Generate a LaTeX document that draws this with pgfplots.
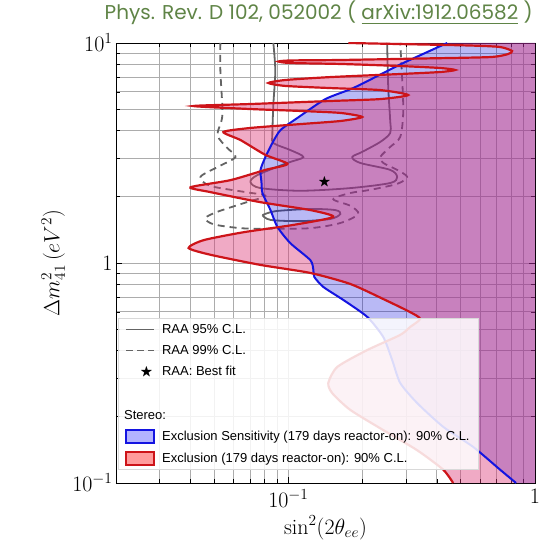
\RequirePackage{fix-cm}
\documentclass[border=0pt]{standalone}
\usepackage{amssymb}
\usepackage{graphicx}
\usepackage{fontspec}
\usepackage{pgfplots}
\pgfplotsset{compat=1.18}
\usepackage{pgfplotstable}
\newfontfamily\legfont{Liberation Sans}
\newfontfamily\titfont{Poppins}

\definecolor{titgreen}{RGB}{95,132,70}
\definecolor{raagray}{RGB}{100,100,100}
\definecolor{stblue}{RGB}{20,20,225}
\definecolor{stred}{RGB}{205,20,25}
\definecolor{fillblue}{RGB}{0,0,217}
\definecolor{fillred}{RGB}{220,57,120}

\pgfplotsset{
  lineleg/.style={legend image code/.code={\draw[##1] (0pt,0pt) -- (28pt,0pt);}},
  patchleg/.style={legend image code/.code={\draw[##1] (0pt,-6.5pt) rectangle (28pt,6.5pt);}},
  starleg/.style={legend image code/.code={\node[inner sep=0pt,font=\fontsize{13}{13}\selectfont] at (14pt,0pt) {$\bigstar$};}},
}

% Stereo exclusion (90% C.L.), last two rows close the area at x = 1
\pgfplotstableread{
x y
0.1750 10.0
0.2840 9.89
0.545 9.74
0.7216 9.59
0.8072 9.20
0.778 8.91
0.657 8.63
0.3422 8.50
0.1625 8.37
0.1019 8.33
0.0911 8.24
0.1019 8.11
0.1625 8.03
0.2840 7.86
0.412 7.70
0.4745 7.54
0.412 7.38
0.2840 7.23
0.1479 7.00
0.0973 6.79
0.0830 6.58
0.0973 6.38
0.1479 6.24
0.2357 6.11
0.3061 5.80
0.2357 5.56
0.1479 5.45
0.0702 5.28
0.0412 5.17
0.0702 5.01
0.1118 4.91
0.1625 4.81
0.1993 4.61
0.1625 4.42
0.1118 4.28
0.0702 4.11
0.0545 3.94
0.0640 3.62
0.0807 3.10
0.0991 2.82
0.0807 2.65
0.0582 2.38
0.0401 2.21
0.0483 2.10
0.0771 1.89
0.1228 1.74
0.1521 1.62
0.1048 1.49
0.0658 1.38
0.0453 1.27
0.0394 1.17
0.0483 1.09
0.0771 0.980
0.1228 0.901
0.1782 0.803
0.2425 0.686
0.3118 0.598
0.3422 0.557
0.3118 0.512
0.2840 0.471
0.2088 0.402
0.1579 0.337
0.1452 0.285
0.1507 0.256
0.1782 0.215
0.2425 0.174
0.3327 0.141
0.4245 0.115
0.4656 0.100
1 0.1
1 10
}\redc

% Stereo sensitivity (90% C.L.)
\pgfplotstableread{
x y
0.4405 10.0
0.2922 8.11
0.2517 7.46
0.1832 6.24
0.1413 5.56
0.1087 4.56
0.0929 4.02
0.0861 3.51
0.0807 3.03
0.0771 2.65
0.0778 2.33
0.0785 2.08
0.0846 1.74
0.0902 1.46
0.1019 1.23
0.1228 1.03
0.1263 0.930
0.1274 0.864
0.1387 0.778
0.1671 0.679
0.2088 0.569
0.2425 0.461
0.2636 0.362
0.2840 0.285
0.3327 0.231
0.4245 0.180
0.5610 0.146
0.7216 0.115
0.838 0.100
1 0.1
1 10
}\bluec

% RAA 95% C.L.
\pgfplotstableread{
x y
0.0869 10.0
0.0885 7.46
0.0869 5.23
0.0861 3.82
0.0869 3.51
0.1019 3.26
0.1150 3.03
0.0991 2.85
0.0749 2.51
0.0702 2.33
0.0771 2.19
0.1118 2.13
0.1782 2.19
0.2588 2.31
0.2761 2.46
0.2588 2.65
0.1955 2.85
0.1815 3.03
0.1993 3.20
0.2357 3.55
0.2588 3.90
0.2588 4.42
0.2541 6.24
0.2517 9.49
0.2517 10.0
}\raaA

\pgfplotstableread{
x y
0.0785 1.65
0.0885 1.72
0.1228 1.76
0.1550 1.74
0.1625 1.67
0.1479 1.585
0.1118 1.55
0.0846 1.57
0.0785 1.65
}\raaB

% RAA 99% C.L.
\pgfplotstableread{
x y
0.0530 10.0
0.0530 7.46
0.0540 4.71
0.0516 3.82
0.0566 3.33
0.0610 3.03
0.0516 2.73
0.0440 2.46
0.0483 2.24
0.0670 2.10
0.0807 2.02
0.0658 1.87
0.0516 1.71
0.0461 1.60
0.0497 1.50
0.0640 1.44
0.0846 1.43
0.1228 1.44
0.1625 1.52
0.1920 1.67
0.1782 1.82
0.1521 1.95
0.1782 2.08
0.2148 2.15
0.2761 2.29
0.3032 2.46
0.2761 2.65
0.2425 2.85
0.2357 3.03
0.2588 3.37
0.2840 3.74
0.2922 4.81
0.2895 6.79
0.2840 10.0
}\raaC

\begin{document}
\begin{tikzpicture}
\begin{axis}[
  name=ax,
  scale only axis,
  width=419pt, height=440pt,
  xmode=log, ymode=log,
  xmin=0.02, xmax=1, ymin=0.1, ymax=10,
  xtick={0.1,1}, xticklabels={$10^{-1}$,$1$},
  ytick={0.1,1,10}, yticklabels={$10^{-1}$,$1$,$10^{1}$},
  minor xtick={0.03,0.04,0.05,0.06,0.07,0.08,0.09,0.2,0.3,0.4,0.5,0.6,0.7,0.8,0.9},
  minor ytick={0.2,0.3,0.4,0.5,0.6,0.7,0.8,0.9,2,3,4,5,6,7,8,9},
  grid=both,
  major grid style={gray!65, line width=0.9pt},
  minor grid style={gray!65, line width=0.9pt},
  axis line style={line width=0.9pt},
  tick style={black, line width=0.6pt},
  major tick length=6pt, minor tick length=4pt,
  tick label style={font=\fontsize{22}{24}\selectfont},
  xticklabel style={yshift=-3pt},
  label style={font=\fontsize{22}{24}\selectfont},
  xlabel={$\sin^2(2\theta_{ee})$},
  ylabel={$\Delta m^2_{41}\,(eV^2)$},
  x label style={at={(axis description cs:0.5,-0.102)}, anchor=center},
  y label style={at={(axis description cs:-0.15,0.5)}, anchor=center},
  legend cell align=left,
  legend style={at={(axis description cs:0.005,0.375)}, anchor=north west,
    font=\legfont\fontsize{13}{15}\selectfont,
    fill=white, fill opacity=0.85, draw opacity=1, text opacity=1,
    draw=gray!30, inner xsep=7pt, inner ysep=4pt, row sep=6.5pt,
    /tikz/every odd column/.append style={column sep=5pt}},
]
% RAA contours and best fit (under the coloured areas)
\addplot[raagray, line width=1.8pt, smooth, tension=0.5, forget plot] table {\raaA};
\addplot[raagray, line width=1.8pt, smooth, tension=0.5, forget plot] table {\raaB};
\addplot[raagray, line width=1.8pt, dash pattern=on 7pt off 5pt, smooth, tension=0.5, forget plot] table {\raaC};
\addplot[only marks, mark=text, text mark={\fontsize{13}{13}\selectfont$\bigstar$}, black!85, forget plot] coordinates {(0.140,2.33)};

% Stereo areas
\addplot[draw=none, fill=fillblue, fill opacity=0.275, forget plot] table {\bluec};
\addplot[draw=none, fill=fillred, fill opacity=0.43, forget plot] table {\redc};
\addplot[stblue, line width=2pt, smooth, tension=0.4, skip coords between index={29}{31}, forget plot] table {\bluec};
\addplot[stred, line width=2.2pt, smooth, tension=0.4, skip coords between index={69}{71}, forget plot] table {\redc};

\addlegendimage{lineleg, raagray, line width=1.8pt}
\addlegendentry{RAA 95\% C.L.}
\addlegendimage{lineleg, raagray, line width=1.8pt, dash pattern=on 7pt off 4pt}
\addlegendentry{RAA 99\% C.L.}
\addlegendimage{starleg}
\addlegendentry{RAA: Best fit}
\addlegendimage{empty legend}
\addlegendentry{\strut}
\addlegendimage{empty legend}
\addlegendentry{\hspace{-38pt}Stereo:}
\addlegendimage{patchleg, draw=stblue, fill=blue!35, line width=1.8pt}
\addlegendentry{Exclusion Sensitivity (179 days reactor-on): 90\% C.L.}
\addlegendimage{patchleg, draw=stred, fill=red!45, line width=1.8pt}
\addlegendentry{Exclusion (179 days reactor-on): 90\% C.L.}
\end{axis}
\node[anchor=base east, inner sep=0pt, text=titgreen]
  at ([xshift=-2pt, yshift=23pt]ax.north east)
  {\resizebox{428pt}{!}{\titfont Phys. Rev. D 102, 052002 ( \underline{arXiv:1912.06582} )}};
\pgfresetboundingbox
\path[use as bounding box] ([xshift=-116pt, yshift=-64pt]ax.south west) rectangle ([xshift=10pt, yshift=43pt]ax.north east);
\end{tikzpicture}
\end{document}
